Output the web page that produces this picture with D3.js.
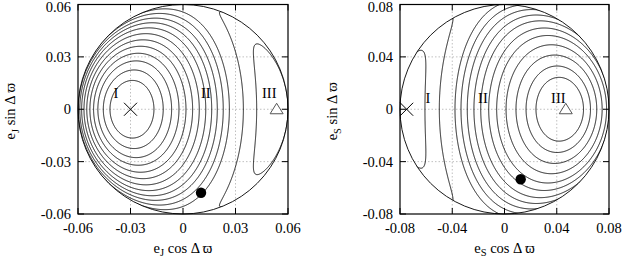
<!DOCTYPE html>
<html><head><meta charset="utf-8">
<script src="https://cdn.jsdelivr.net/npm/d3@7"></script>
<style>
body{margin:0;background:#fff}
text{font-family:"Liberation Serif","Times New Roman",serif;fill:#000}
</style>
</head><body>
<svg id="chart" width="624" height="261"></svg>
<script>
// ---------------- data ----------------
const leftTicks = [-0.06, -0.03, 0, 0.03, 0.06];
const leftTickLabels = ["-0.06", "-0.03", "0", "0.03", "0.06"];
const rightTicks = [-0.08, -0.04, 0, 0.04, 0.08];
const rightTickLabels = ["-0.08", "-0.04", "0", "0.04", "0.08"];

const leftRadius = 0.06;          // edge of allowed region (e_J max)
const rightRadius = 0.08;         // edge of allowed region (e_S max)
const leftOvalCentre = -0.03;     // centre of the nested ovals, left panel
const rightOvalCentre = 0.0436;   // centre of the nested ovals, right panel

// where each contour crosses the horizontal line sin = 0
const leftCrossings = [-0.0166, -0.0113, -0.0065, -0.0023, 0.0017, 0.0055, 0.0093,
                       0.0130, 0.0164, 0.0196, 0.0230, 0.0265, 0.0345, 0.0421];
const rightCrossings = [0.0241, 0.0165, 0.0088, 0.0012, -0.0060, -0.0121, -0.0182,
                        -0.0234, -0.0285, -0.0333, -0.0379, -0.0499, -0.0609];

const leftRegionLabels = ["I", "II", "III"];
const leftRegionX = [-0.0383, 0.0130, 0.0493];
const rightRegionLabels = ["I", "II", "III"];
const rightRegionX = [-0.0586, -0.0165, 0.0412];
const regionLabelY = [0.0091, 0.0084];

const leftCross = [-0.030, 0];
const leftTriangle = [0.0535, 0];
const leftDot = [0.0103, -0.0478];
const rightCross = [-0.0749, 0];
const rightTriangle = [0.0469, 0];
const rightDot = [0.0124, -0.0535];

const leftXLabel = ["e", "J", " cos Δ ϖ"];
const leftYLabel = ["e", "J", " sin Δ ϖ"];
const rightXLabel = ["e", "S", " cos Δ ϖ"];
const rightYLabel = ["e", "S", " sin Δ ϖ"];

// ---------------- drawing ----------------
const svg = d3.select("#chart");

function panel(cfg) {
  const R = cfg.radius;
  const xs = d3.scaleLinear().domain([-R, R]).range([cfg.x0, cfg.x1]);
  const ys = d3.scaleLinear().domain([-R, R]).range([cfg.y1, cfg.y0]);
  const g = svg.append("g");

  // secular-energy-like field: k r^2 + sigma * x * sqrt(Rp^2 - r^2),
  // with k and Rp fixed so that its two equilibria sit at c1 and c2
  const c1 = cfg.centre, c2 = cfg.outerFixed;
  const sigma = c1 < 0 ? 1 : -1;
  const kOf = Rp => -sigma * (Rp * Rp - 2 * c1 * c1) / (2 * c1 * Math.sqrt(Rp * Rp - c1 * c1));
  const dH = (Rp, x) => 2 * kOf(Rp) * x + sigma * (Rp * Rp - 2 * x * x) / Math.sqrt(Rp * Rp - x * x);
  let lo = R, hi = 1.4 * R;
  const sLo = Math.sign(dH(lo, c2));
  for (let it = 0; it < 60; it++) {
    const mid = (lo + hi) / 2;
    if (Math.sign(dH(mid, c2)) === sLo) lo = mid; else hi = mid;
  }
  const Rp = (lo + hi) / 2, k = kOf(Rp);
  const H = (x, y) => {
    const r2 = x * x + y * y;
    const s = Math.sqrt(Math.max(0, Rp * Rp - r2));
    return k * r2 + sigma * x * s;
  };
  const levels = cfg.crossings.map(x => H(x, 0)).sort((a, b) => a - b);

  const n = 420, ext = 1.04 * R, step = 2 * ext / (n - 1);
  const values = new Float64Array(n * n);
  for (let j = 0; j < n; j++) {
    const y = ext - j * step;
    for (let i = 0; i < n; i++) values[j * n + i] = H(-ext + i * step, y);
  }
  const contours = d3.contours().size([n, n]).thresholds(levels)(values);
  const proj = d3.geoTransform({
    point: function (px, py) {
      this.stream.point(xs(-ext + (px - 0.5) * step), ys(ext - (py - 0.5) * step));
    }
  });
  const path = d3.geoPath(proj);

  // grid
  const grid = g.append("g").attr("stroke", "#b0b0b0").attr("stroke-width", 0.8)
    .attr("stroke-dasharray", "1.5,2");
  cfg.ticks.slice(1, -1).forEach(t => {
    grid.append("line").attr("x1", xs(t)).attr("x2", xs(t)).attr("y1", cfg.y0).attr("y2", cfg.y1);
    grid.append("line").attr("y1", ys(t)).attr("y2", ys(t)).attr("x1", cfg.x0).attr("x2", cfg.x1);
  });

  const clipId = "clip" + cfg.id;
  svg.append("clipPath").attr("id", clipId).append("ellipse")
    .attr("cx", xs(0)).attr("cy", ys(0)).attr("rx", xs(R) - xs(0)).attr("ry", ys(0) - ys(R));

  g.append("g").attr("clip-path", `url(#${clipId})`)
    .selectAll("path").data(contours).join("path")
    .attr("d", path).attr("fill", "none").attr("stroke", "#000").attr("stroke-width", 0.9);

  g.append("ellipse").attr("cx", xs(0)).attr("cy", ys(0))
    .attr("rx", xs(R) - xs(0)).attr("ry", ys(0) - ys(R))
    .attr("fill", "none").attr("stroke", "#000").attr("stroke-width", 0.9);

  // frame and ticks
  g.append("rect").attr("x", cfg.x0).attr("y", cfg.y0)
    .attr("width", cfg.x1 - cfg.x0).attr("height", cfg.y1 - cfg.y0)
    .attr("fill", "none").attr("stroke", "#000").attr("stroke-width", 1.2);
  const tl = 6;
  const tk = g.append("g").attr("stroke", "#000").attr("stroke-width", 1);
  cfg.ticks.forEach(t => {
    tk.append("line").attr("x1", xs(t)).attr("x2", xs(t)).attr("y1", cfg.y1).attr("y2", cfg.y1 - tl);
    tk.append("line").attr("x1", xs(t)).attr("x2", xs(t)).attr("y1", cfg.y0).attr("y2", cfg.y0 + tl);
    tk.append("line").attr("y1", ys(t)).attr("y2", ys(t)).attr("x1", cfg.x0).attr("x2", cfg.x0 + tl);
    tk.append("line").attr("y1", ys(t)).attr("y2", ys(t)).attr("x1", cfg.x1).attr("x2", cfg.x1 - tl);
  });
  cfg.ticks.forEach((t, i) => {
    g.append("text").attr("x", xs(t)).attr("y", cfg.y1 + 19).attr("text-anchor", "middle")
      .attr("font-size", 14.5).text(cfg.tickLabels[i]);
    g.append("text").attr("x", cfg.x0 - 7).attr("y", Math.max(ys(t) + 5, 11.5)).attr("text-anchor", "end")
      .attr("font-size", 14.5).text(cfg.tickLabels[i]);
  });

  // axis titles
  const xl = g.append("text").attr("x", (cfg.x0 + cfg.x1) / 2).attr("y", 252.5)
    .attr("text-anchor", "middle").attr("font-size", 14.5);
  xl.append("tspan").text(cfg.xLabel[0]);
  xl.append("tspan").attr("font-size", 10.5).attr("dy", 3.5).text(cfg.xLabel[1]);
  xl.append("tspan").attr("dy", -3.5).text(cfg.xLabel[2]);
  const yl = g.append("text")
    .attr("transform", `translate(${cfg.yLabelX},${(cfg.y0 + cfg.y1) / 2 + 2}) rotate(-90)`)
    .attr("text-anchor", "middle").attr("font-size", 14.5);
  yl.append("tspan").text(cfg.yLabel[0]);
  yl.append("tspan").attr("font-size", 10.5).attr("dy", 3.5).text(cfg.yLabel[1]);
  yl.append("tspan").attr("dy", -3.5).text(cfg.yLabel[2]);

  // region labels
  cfg.regionLabels.forEach((lab, i) => {
    g.append("text").attr("x", xs(cfg.regionX[i])).attr("y", ys(cfg.regionY) + 5)
      .attr("text-anchor", "middle").attr("font-size", 14.5).text(lab);
  });

  // markers
  const cx = xs(cfg.cross[0]), cy = ys(cfg.cross[1]), cs = 6.5;
  g.append("path").attr("d", `M${cx - cs},${cy - cs}L${cx + cs},${cy + cs}M${cx - cs},${cy + cs}L${cx + cs},${cy - cs}`)
    .attr("stroke", "#000").attr("stroke-width", 1);
  const tx = xs(cfg.triangle[0]), ty = ys(cfg.triangle[1]);
  g.append("path").attr("d", `M${tx},${ty - 6}L${tx + 6.5},${ty + 4.5}L${tx - 6.5},${ty + 4.5}Z`)
    .attr("fill", "#fff").attr("stroke", "#555").attr("stroke-width", 1);
  g.append("circle").attr("cx", xs(cfg.dot[0])).attr("cy", ys(cfg.dot[1])).attr("r", 5.2).attr("fill", "#000");
}

panel({id: "L", radius: leftRadius, centre: leftOvalCentre, outerFixed: leftTriangle[0], crossings: leftCrossings,
  x0: 78, x1: 288, y0: 4.5, y1: 214, ticks: leftTicks, tickLabels: leftTickLabels,
  xLabel: leftXLabel, yLabel: leftYLabel, yLabelX: 15,
  regionLabels: leftRegionLabels, regionX: leftRegionX, regionY: regionLabelY[0],
  cross: leftCross, triangle: leftTriangle, dot: leftDot});
panel({id: "R", radius: rightRadius, centre: rightOvalCentre, outerFixed: rightCross[0], crossings: rightCrossings,
  x0: 400, x1: 609, y0: 4.5, y1: 214, ticks: rightTicks, tickLabels: rightTickLabels,
  xLabel: rightXLabel, yLabel: rightYLabel, yLabelX: 337,
  regionLabels: rightRegionLabels, regionX: rightRegionX, regionY: regionLabelY[1],
  cross: rightCross, triangle: rightTriangle, dot: rightDot});
</script>
</body></html>
